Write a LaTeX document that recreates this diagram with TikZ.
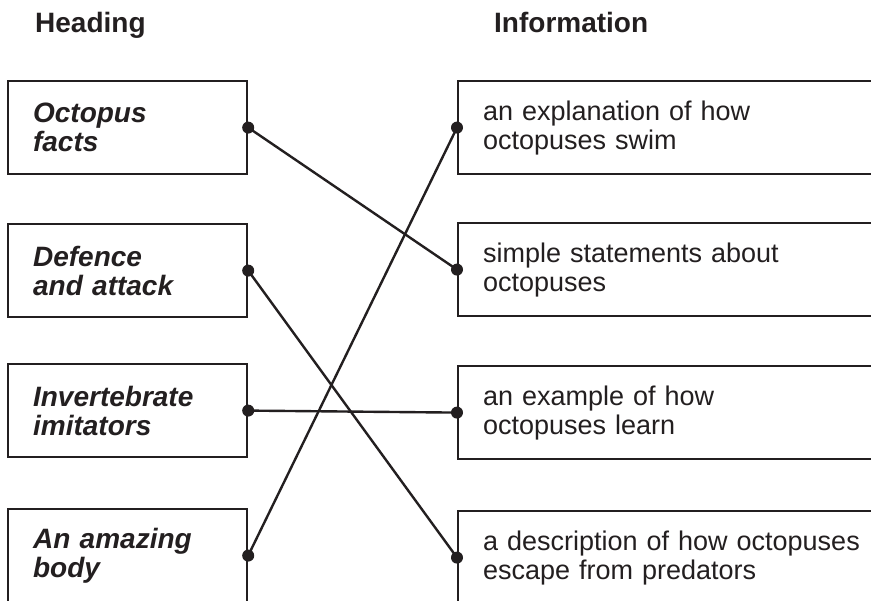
\documentclass[tikz,border=0pt]{standalone}
\usepackage{fontspec}
\setmainfont{Liberation Sans}
\usepackage{tikz}

\definecolor{ink}{HTML}{231F20}

\tikzset{
    headbox/.style={draw=ink, line width=2.2pt, rectangle, minimum width=239pt, minimum height=93pt,
        text width=189pt, inner xsep=25pt, align=left, anchor=north west,
        font=\fontsize{28}{29}\selectfont\bfseries\itshape},
    infobox/.style={draw=ink, line width=2.2pt, rectangle, minimum height=93pt,
        text width=420pt, inner xsep=25pt, align=left, anchor=north west,
        font=\fontsize{27}{29}\selectfont},
    title/.style={anchor=base west, inner sep=0pt, font=\fontsize{28}{29}\selectfont\bfseries},
    link/.style={line width=2.4pt, draw=ink}
}

\begin{document}
\begin{tikzpicture}[x=1pt, y=-1pt, text=ink]
    \clip (0, 0) rectangle (871, 601);
    \fill[white] (0, 0) rectangle (871, 601);

    \node[title] (th) at (35, 33) {Heading};
    \node[title] (ti) at (494, 33) {Information};

    \node[headbox] (h1) at (7, 80) {Octopus\\facts};
    \node[headbox] (h2) at (7, 223) {Defence\\and attack};
    \node[headbox] (h3) at (7, 363) {Invertebrate\\imitators};
    \node[headbox] (h4) at (7, 508) {An amazing\\body};

    \node[infobox] (i1) at (457, 80) {an explanation of how\\octopuses swim};
    \node[infobox] (i2) at (457, 222) {simple statements about\\octopuses};
    \node[infobox] (i3) at (457, 365) {an example of how\\octopuses learn};
    \node[infobox] (i4) at (457, 510) {a description of how octopuses\\escape from predators};

    % matching lines
    \draw[link] (h1.east) -- (i2.west);
    \draw[link] (h2.east) -- (i4.west);
    \draw[link] (h3.east) -- (i3.west);
    \draw[link] (h4.east) -- (i1.west);

    \foreach \n in {h1, h2, h3, h4}
        \fill[ink] (\n.east) circle[radius=6];
    \foreach \n in {i1, i2, i3, i4}
        \fill[ink] (\n.west) circle[radius=6];
\end{tikzpicture}
\end{document}
